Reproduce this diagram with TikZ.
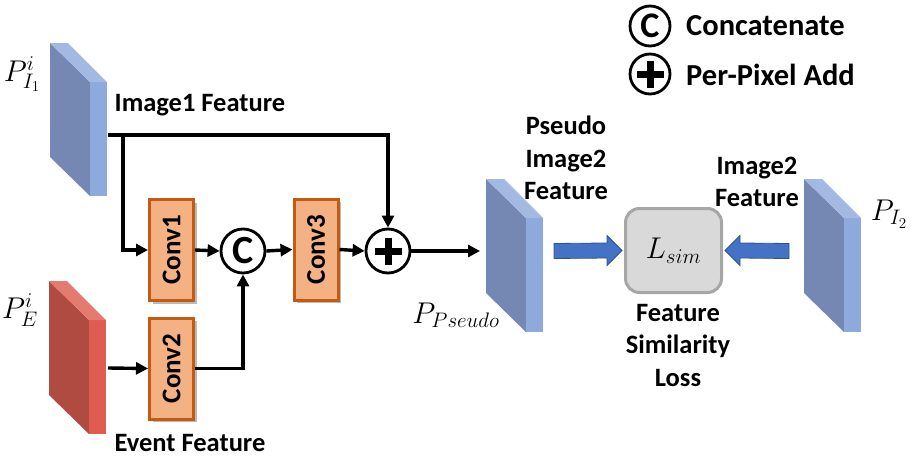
\RequirePackage{fix-cm}
\documentclass[tikz,border=0pt]{standalone}
\usepackage{fontspec}
\setmainfont{Carlito}
\usetikzlibrary{shadows,arrows.meta,calc}
\definecolor{bdark}{HTML}{7488B3}
\definecolor{bside}{HTML}{8EA9DB}
\definecolor{btop}{HTML}{A4B9E2}
\definecolor{rdark}{HTML}{B04B41}
\definecolor{rside}{HTML}{E05C50}
\definecolor{rtop}{HTML}{E47A70}
\definecolor{convfill}{HTML}{F4B183}
\definecolor{convdraw}{HTML}{C55A11}
\definecolor{arrblue}{HTML}{4472C4}
\definecolor{arrdraw}{HTML}{2F528F}
\newcommand\featslab[5]{%
  \fill[#3] (#1,#2) -- ++(40,39) -- ++(0,114) -- ++(-40,-39) -- cycle;
  \fill[#4] (#1+40,#2+39) -- ++(17,0) -- ++(0,114) -- ++(-17,0) -- cycle;
  \fill[#5] (#1,#2) -- ++(18,0) -- ++(39,39) -- ++(-17,0) -- cycle;}
\tikzset{
  lab/.style={font=\fontsize{26.5}{32.5}\selectfont\bfseries, align=center, inner sep=0pt},
  leg/.style={font=\fontsize{30.5}{34}\selectfont\bfseries, anchor=west, inner sep=0pt},
  mathlab/.style={font=\fontsize{30}{32}\selectfont, inner sep=0pt},
  convbox/.style={draw=convdraw, fill=convfill, line width=3pt, minimum width=44pt,
    minimum height=101pt, inner sep=0pt,
    drop shadow={shadow xshift=3pt, shadow yshift=-3pt, fill=black!45, opacity=0.6},
    font=\fontsize{27}{30}\selectfont\bfseries},
  opc/.style={circle, draw, line width=2.8pt, minimum size=#1, inner sep=0pt, fill=white},
  conn/.style={line width=3.4pt, -{Triangle[length=12pt,width=12pt]}},
  blk/.style={fill=arrblue, draw=arrdraw, line width=0.8pt, line join=miter},
  lsim/.style={rounded corners=14pt, fill=black!15, draw=black!35, line width=3pt,
    minimum width=96pt, minimum height=84pt, font=\fontsize{30}{32}\selectfont}
}
\newcommand\plussign[1]{\draw[line width=7pt] ($(#1)+(-13.5,0)$) -- ($(#1)+(13.5,0)$)
  ($(#1)+(0,-13.5)$) -- ($(#1)+(0,13.5)$);}
\begin{document}
\begin{tikzpicture}[x=1pt,y=-1pt]
\useasboundingbox (0,0) rectangle (916,466);
% feature slabs
\featslab{50}{43}{bdark}{bside}{btop}
\featslab{49}{281}{rdark}{rside}{rtop}
\featslab{486}{179}{bdark}{bside}{btop}
\featslab{804}{179}{bdark}{bside}{btop}
% math labels
\node[mathlab] (pi1) at (22,74) {$P_{I_1}^{i}$};
\node[mathlab] (pe) at (20,310) {$P_{E}^{i}$};
\node[mathlab] (pp) at (456,315) {$P_{Pseudo}$};
\node[mathlab] (pi2) at (889,214) {$P_{I_2}$};
% text labels
\node[lab] (t1) at (200,105) {Image1 Feature};
\node[lab] (t2) at (190,443) {Event Feature};
\node[lab] (t3) at (566,158) {Pseudo\\Image2\\Feature};
\node[lab] (t4) at (757,182) {Image2\\Feature};
\node[lab] (t5) at (678,345) {Feature\\Similarity\\Loss};
% legend
\node[opc=40pt] (lc) at (650,26) {};
\node[font=\fontsize{36}{36}\selectfont\bfseries, inner sep=0pt] at (lc) {C};
\node[leg] (lt1) at (686,26) {Concatenate};
\node[opc=40pt] (lp) at (650,74) {};
\plussign{lp}
\node[leg] (lt2) at (686,75) {Per-Pixel Add};
% conv blocks
\node[convbox] (conv1) at (171.5,250) {\rotatebox{90}{Conv1}};
\node[convbox] (conv2) at (171.5,368.5) {\rotatebox{90}{Conv2}};
\node[convbox] (conv3) at (316,249.5) {\rotatebox{90}{Conv3}};
% operators
\node[opc=44pt] (cc) at (243,251) {};
\node[font=\fontsize{40}{40}\selectfont\bfseries, inner sep=0pt] at (cc) {C};
\node[opc=44pt] (plus) at (388,251) {};
\plussign{plus}
% loss
\node[lsim] (L) at (673.5,250.5) {$L_{sim}$};
% coordinates on slabs
\coordinate (i1) at (108,135);
\coordinate (br) at (123,135);
\coordinate (e1) at (108,368);
\coordinate (ps) at (480,251);
\coordinate (psr) at (554,251);
\coordinate (i2l) at (789,251);
% connectors
\draw[line width=3.4pt] (i1) -- (br);
\draw[conn] (br) -| (plus.north);
\draw[conn] (br) |- (conv1.west);
\draw[conn] (conv1.east) -- (cc.west);
\draw[conn] (e1) -- (conv2.west);
\draw[conn] (conv2.east) -| (cc.south);
\draw[conn] (cc.east) -- (conv3.west);
\draw[conn] (conv3.east) -- (plus.west);
\draw[conn] (plus.east) -- (ps);
% block arrows
\draw[blk] ($(psr)+(0,-7.5)$) -- ($(L.west)+(-17,-7.5)$) -- ($(L.west)+(-17,-15)$)
  -- ($(L.west)+(-2,0)$) -- ($(L.west)+(-17,15)$) -- ($(L.west)+(-17,7.5)$)
  -- ($(psr)+(0,7.5)$) -- cycle;
\draw[blk] ($(i2l)+(0,-7.5)$) -- ($(L.east)+(17,-7.5)$) -- ($(L.east)+(17,-15)$)
  -- ($(L.east)+(2,0)$) -- ($(L.east)+(17,15)$) -- ($(L.east)+(17,7.5)$)
  -- ($(i2l)+(0,7.5)$) -- cycle;
\end{tikzpicture}
\end{document}
